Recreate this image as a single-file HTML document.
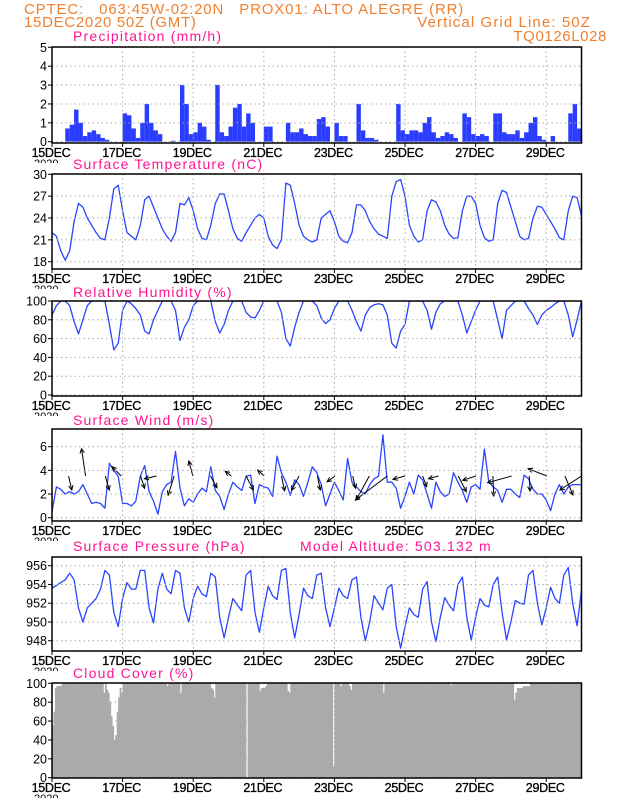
<!DOCTYPE html>
<html><head><meta charset="utf-8"><style>
body{margin:0;background:#fff;width:618px;height:800px;overflow:hidden}
svg{display:block;font-family:"Liberation Sans",sans-serif}
</style></head><body>
<svg id="chart" width="618" height="800" viewBox="0 0 618 800">
<text x="24" y="14" font-size="15" fill="#f08030" letter-spacing="0.85">CPTEC:&#160;&#160;&#160;063:45W-02:20N&#160;&#160;&#160;PROX01: ALTO ALEGRE (RR)</text>
<text x="24" y="27" font-size="15" fill="#f08030" letter-spacing="0.7">15DEC2020 50Z (GMT)</text>
<text x="591" y="27" font-size="15" fill="#f08030" text-anchor="end" letter-spacing="1.1">Vertical Grid Line: 50Z</text>
<text x="607" y="41" font-size="15" fill="#f08030" text-anchor="end" letter-spacing="0.6">TQ0126L028</text>
<g id="panels"></g>
</svg>
<script>
const days=["15DEC","17DEC","19DEC","21DEC","23DEC","25DEC","27DEC","29DEC"];
const dayIdx=[0,2,4,6,8,10,12,14];
const precip=[
0,0,0,0.7,0.9,1.7,1.0,0.3, 0.5,0.6,0.4,0.2,0.1,0,0,0,
1.5,1.4,0.7,0.2,1.0,2.0,1.0,0.6, 0.4,0,0,0.05,0,3.0,2.0,0.4,
0.5,1.0,0.8,0.1,0,3.0,0.5,0.3, 0.8,1.8,2.0,0.8,1.5,1.0,0,0,
0.8,0.8,0,0,0,1.0,0.5,0.5, 0.7,0.4,0.3,0.3,1.2,1.3,0.8,0,
1.0,0.3,0.3,0,0,2.0,0.6,0.2, 0.2,0.1,0,0,0,0,2.0,0.6,
0.4,0.6,0.6,0.5,1.0,1.3,0.5,0.2, 0.3,0.5,0.4,0.2,0,1.5,1.3,0.4,
0.3,0.4,0.3,0,1.5,1.5,0.5,0.4, 0.4,0.6,0.2,0.5,1.0,1.3,0.3,0.1,
0,0.3,0,0,0,1.5,2.0,0.7];
const temp=[
22,21.5,19.5,18.2,19.5,23.5,26,25.5, 24,23,22,21.2,21,24,28,28.5,
25,22,21.5,21,23,26.5,27,25.5, 24,22.5,21.5,20.8,22,26,25.8,26.8,
25,22.5,21.2,21,23,26,27.3,27.3, 25,22.5,21.2,20.8,22,23,24,24.5,
24,21.5,20.3,19.8,21,28.8,28.5,26, 23,21.5,21,20.7,21,24,24.5,25,
23.5,21.5,20.8,20.6,22,25.8,25.8,25, 23.5,22.5,21.8,21.5,21.2,27,29,29.3,
27,23,21.5,20.7,21,25,26.5,26.2, 25,23,21.8,21.2,21.3,25,27,27,
26,23,21.3,20.8,21,26,27.8,27.5, 25.5,23.5,21.5,21,21.2,24,25.6,25.5,
24.5,23.5,22.5,21.3,21,25,27,26.8, 24.3];
const rh=[
85,95,100,100,95,78,65,80, 95,100,100,100,100,75,48,55,
90,100,97,92,85,68,65,80, 90,100,100,100,90,58,72,80,
95,100,100,100,100,78,66,75, 90,100,100,100,88,83,82,90,
100,100,100,100,88,60,52,72, 88,100,100,100,95,82,76,80,
92,100,100,100,90,78,68,85, 93,96,97,96,85,55,50,68,
75,100,100,100,100,90,70,88, 97,100,100,100,100,85,66,78,
90,100,100,100,100,80,60,90, 95,100,100,100,92,85,75,85,
90,93,97,100,100,85,62,80, 100];
const wind=[
0.5,2.6,2.4,2.0,2.2,2.0,2.2,2.8, 2.0,1.2,1.3,1.2,0.8,4.6,4.0,3.5,
1.2,1.2,1.0,1.4,3.5,4.4,2.2,1.4, 0.3,2.2,2.8,3.0,5.6,2.5,1.0,1.6,
1.3,2.0,2.5,2.2,4.3,2.3,1.8,0.7, 2.0,3.0,2.6,2.3,3.5,3.6,1.2,2.8,
2.6,2.5,1.8,5.2,3.8,3.0,1.9,3.2, 2.8,1.8,3.0,4.3,3.8,2.8,1.0,2.0,
3.0,2.3,1.5,5.0,3.0,2.6,2.2,2.0, 2.8,3.3,3.5,7.0,3.0,3.0,2.5,0.8,
1.8,3.0,2.0,3.6,3.2,2.0,0.8,3.0, 2.2,1.8,2.0,3.8,3.0,2.3,1.3,2.6,
2.8,2.4,5.8,3.0,2.6,2.3,1.3,2.4, 2.4,2.0,1.7,3.6,3.3,2.4,2.0,2.0,
1.5,0.6,2.0,2.8,2.0,2.6,2.8,2.8, 2.8];
const arrowDay=[0.47,0.95,1.51,1.96,2.51,2.96,3.46,3.99,4.49,5.08,5.50,6.01,6.50,7.00,7.52,8.02,8.52,8.99,9.50,10.00,10.50,10.95,11.51,12.01,12.49,13.02,13.52,14.02,14.53,15.0];
const arrowU=[3.2,-4,4,-9.2,4,-12,-6,-4,6.4,-6,7.2,-6.4,3.2,-7.6,2.8,-8,2.8,-13.2,-32,-12,4,-10,8,-13.2,0.8,-24,0.8,-18.8,8,-21.6];
const arrowV=[-14,27.3,-14,9.3,-12.3,-2.7,-19.3,15,-11.7,4.7,-14,6,-14.7,-14.3,-14,-5.7,-12.3,-24,-24,-3.3,-10.7,-2.7,-15.7,-4.3,-20,-6.7,-15,7.3,-19,-14];
const pres=[
953.6,953.9,954.2,954.5,955.2,954.5,951.5,950, 951.5,952,952.5,953.5,955.5,955,951,949.5,
952.5,954.2,953.5,953.5,955.5,955.5,951.5,949.9, 953.5,955.2,953.5,953,955.5,955.2,951.5,950,
952.5,953.8,953,952.7,955.2,954.8,950.5,948.3, 950.5,952.5,951.8,951.2,955,955.5,951,948.9,
951.5,953.8,952.8,952.4,955.5,955.7,951,948.3, 950.8,953.6,952.8,952.5,955,955.2,951.5,949.5,
951.5,953.6,952.8,952.5,954.5,954.8,950.5,948, 950,952.8,952,951.3,953.6,954,949.5,947.2,
949.5,951.5,950.8,950.5,953.5,954.3,950,947.9, 950.5,952.6,951.8,951.2,954,954.8,950.5,948.1,
950.5,952.5,951.8,951.6,954,954.8,951,948.1, 950,952.3,952,951.9,955,955.5,952,949.7,
951.5,953.7,952.5,952,955,955.8,952,949.6, 953.4];
const cloud=[
55,70,95,97,97,97,98,100,100,100,100,100,100,100,100,100,100,100,100,100,100,100,100,100,
100,100,100,100,100,100,100,100,100,100,100,90,100,93,90,80,65,55,40,45,70,85,95,90,
100,100,100,100,100,100,100,100,100,100,100,100,100,100,100,100,100,100,100,100,100,100,100,100,
100,100,100,100,100,100,97,100,100,100,100,100,100,100,100,90,100,100,100,100,100,100,100,100,
100,100,100,100,100,100,100,100,100,100,100,100,95,93,85,100,100,100,100,100,100,100,100,100,
100,100,100,100,100,100,100,100,100,100,100,100,0,100,100,100,100,100,100,100,100,92,95,95,
95,97,100,100,100,100,100,100,100,100,100,100,100,100,100,100,92,90,100,100,100,100,100,100,
100,100,100,100,100,100,100,100,100,100,100,100,100,100,100,100,100,100,100,100,100,100,100,12,
100,100,100,100,97,100,100,100,100,100,97,93,100,100,100,100,100,100,100,100,100,100,100,100,
100,100,100,100,100,100,100,100,100,90,100,100,100,100,100,100,100,100,100,100,100,100,100,100,
100,100,100,100,100,100,100,100,100,100,100,100,100,100,100,100,100,100,100,100,100,100,100,100,
100,100,100,100,100,100,100,98,100,100,100,100,100,100,100,100,100,100,100,100,100,100,100,100,
100,100,100,100,100,100,100,100,100,100,100,100,100,100,100,100,100,100,100,100,100,100,100,100,
100,100,82,90,95,95,95,95,97,97,97,97,97,100,100,100,100,100,100,100,100,100,100,100,
100,100,100,100,100,100,100,100,100,100,100,100,100,100,100,100,100,100,100,100,100,100,100,100];

const NS="http://www.w3.org/2000/svg";
const G=document.getElementById('panels');
const X0=52,DAY=35.3,X1=581.5;
function xs(d){return X0+d*DAY;}
function mk(tag,attrs,parent){const e=document.createElementNS(NS,tag);for(const k in attrs)e.setAttribute(k,attrs[k]);(parent||G).appendChild(e);return e;}

const panels=[
 {key:'precip',title:'Precipitation (mm/h)',ty:41,top:47,bot:143,v0:0,v1:5,y0:141.7,y1:47.3,ticks:[0,1,2,3,4,5]},
 {key:'temp',title:'Surface Temperature (nC)',ty:169,top:174,bot:269,v0:18,v1:30,y0:261.7,y1:174.3,ticks:[18,21,24,27,30]},
 {key:'rh',title:'Relative Humidity (%)',ty:297,top:301,bot:396,v0:0,v1:100,y0:395,y1:301,ticks:[0,20,40,60,80,100]},
 {key:'wind',title:'Surface Wind (m/s)',ty:425,top:429,bot:521,v0:0,v1:6,y0:517.7,y1:446.7,ticks:[0,2,4,6]},
 {key:'pres',title:'Surface Pressure (hPa)',ty:551,top:557,bot:651,v0:948,v1:956,y0:640.7,y1:565.7,ticks:[948,950,952,954,956]},
 {key:'cloud',title:'Cloud Cover (%)',ty:678,top:683,bot:778,v0:0,v1:100,y0:777.7,y1:683.3,ticks:[0,20,40,60,80,100]}
];
panels.forEach(p=>{p.ys=v=>p.y0+(v-p.v0)*(p.y1-p.y0)/(p.v1-p.v0);});

panels.forEach(p=>{
 const g=mk('g',{});
 
 
 const t=mk('text',{x:73,y:p.ty,'font-size':14,fill:'#ff1493','letter-spacing':1.2},g);
 t.textContent=p.title;
 
 
 const clip=mk('clipPath',{id:'c-'+p.key},g);
 mk('rect',{x:X0,y:p.top,width:X1-X0,height:p.bot-p.top},clip);
 const plot=mk('g',{'clip-path':'url(#c-'+p.key+')'},g);
 
 
 p.plot=plot;p.g=g;
 dayIdx.forEach(d=>{if(d>0){const l=mk('line',{x1:xs(d),x2:xs(d),y1:p.top,y2:p.bot,stroke:'#aaa','stroke-dasharray':'1.5,3','stroke-width':1},g);
  }});
 p.ticks.forEach(v=>{const y=p.ys(v);
  const l=mk('line',{x1:X0,x2:X1,y1:y,y2:y,stroke:'#aaa','stroke-dasharray':'1.5,3','stroke-width':1},g);
  
  mk('line',{x1:X0-4,x2:X0,y1:y,y2:y,stroke:'#000'},g);
  const tl=mk('text',{x:X0-5,y:y+4.5,'font-size':12.5,'text-anchor':'end',fill:'#000'},g);
  tl.textContent=v;
  
 });
 dayIdx.forEach((d,i)=>{
  mk('line',{x1:xs(d),x2:xs(d),y1:p.bot,y2:p.bot+4,stroke:'#000'},g);
  const dl=mk('text',{x:xs(d)-1,y:p.bot+14,'font-size':12.5,'text-anchor':'middle',fill:'#000','letter-spacing':'-0.3',stroke:'#000','stroke-width':0.3},g);
  dl.textContent=days[i];
  
 });
 const yr=mk('text',{x:34,y:p.bot+24,'font-size':11,fill:'#000'},g);
 yr.textContent='2020';
 
});
panels.forEach(p=>{mk('rect',{x:0,y:p.bot+20,width:70,height:6,fill:'#fff'});});

const P={};panels.forEach(p=>P[p.key]=p);
precip.forEach((v,i)=>{if(v<=0)return;const p=P.precip;const x=xs(i/8),w=DAY/8;
 const r=mk('rect',{x:x,y:p.ys(v),width:w,height:p.ys(0)-p.ys(v),fill:'#2a3cff'},p.plot);
 });
cloud.forEach((v,i)=>{const p=P.cloud;const x=xs(i/24),w=DAY/24+0.3;
 const r=mk('rect',{x:x,y:p.ys(v),width:w,height:p.ys(0)-p.ys(v),fill:'#aaaaaa'},p.plot);
 });
function line(p,arr,name){let d='';arr.forEach((v,i)=>{d+=(i?'L':'M')+xs(i/8).toFixed(1)+','+p.ys(v).toFixed(1);});
 const l=mk('path',{d:d,fill:'none',stroke:'#2a45ff','stroke-width':1.3,'stroke-linejoin':'round'},p.plot);
 }
line(P.temp,temp,'temperature-line');
line(P.rh,rh,'humidity-line');
line(P.wind,wind,'wind-speed-line');
line(P.pres,pres,'pressure-line');
arrowDay.forEach((d,i)=>{const p=P.wind;const x=xs(d),y=476;const x2=x+arrowU[i],y2=y-arrowV[i];
 const a=Math.atan2(y2-y,x2-x);const h=5;
 const g=mk('g',{stroke:'#000','stroke-width':1,fill:'none'},p.plot);
 
 mk('line',{x1:x,y1:y,x2:x2,y2:y2},g);
 mk('path',{d:`M${x2-h*Math.cos(a-0.45)},${y2-h*Math.sin(a-0.45)}L${x2},${y2}L${x2-h*Math.cos(a+0.45)},${y2-h*Math.sin(a+0.45)}`},g);});
panels.forEach(p=>{
 const b=mk('rect',{x:X0,y:p.top,width:X1-X0,height:p.bot-p.top,fill:'none',stroke:'#000','stroke-width':1.5},p.g);
 
});
const ma=mk('text',{x:300,y:551,'font-size':14,fill:'#ff1493','letter-spacing':1.2});
ma.textContent='Model Altitude: 503.132 m';


</script>
</body></html>
